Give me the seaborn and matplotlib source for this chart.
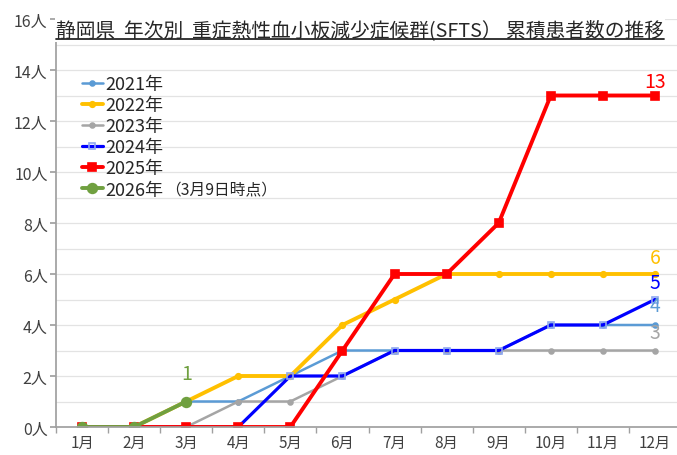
import matplotlib
matplotlib.use('Agg')
import matplotlib.pyplot as plt
import numpy as np
import pandas as pd
import seaborn as sns
from matplotlib.lines import Line2D

# Data (cumulative patients per month)
months = ['1月', '2月', '3月', '4月', '5月', '6月', '7月', '8月', '9月', '10月', '11月', '12月']
y2021 = [0, 0, 1, 1, 2, 3, 3, 3, 3, 4, 4, 4]
y2022 = [0, 0, 1, 2, 2, 4, 5, 6, 6, 6, 6, 6]
y2023 = [0, 0, 0, 1, 1, 2, 3, 3, 3, 3, 3, 3]
y2024 = [0, 0, 0, 0, 2, 2, 3, 3, 3, 4, 4, 5]
y2025 = [0, 0, 0, 0, 0, 3, 6, 6, 8, 13, 13, 13]
y2026 = [0, 0, 1]
series_names = ['2021年', '2022年', '2023年', '2024年', '2025年', '2026年']
note_2026 = '（3月9日時点）'

sns.set_theme(style='white')
plt.rcParams['font.family'] = ['Noto Sans CJK JP', 'DejaVu Sans']

fig = plt.figure(figsize=(6.77, 4.56), dpi=100)
ax = fig.add_axes([56 / 677, 1 - 428 / 456, 625 / 677, 408 / 456])

# series styles
styles = [
    dict(color='#5B9BD5', lw=1.8, marker='o', ms=3.5, mfc='#5B9BD5', mec='#5B9BD5'),
    dict(color='#FFC000', lw=2.8, marker='o', ms=4, mfc='#FFC000', mec='#FFC000'),
    dict(color='#A5A5A5', lw=1.8, marker='o', ms=3.5, mfc='#A5A5A5', mec='#A5A5A5'),
    dict(color='#0000FF', lw=2.3, marker='s', ms=5, mfc='none', mec='#8FA8F0'),
    dict(color='#FF0000', lw=2.8, marker='s', ms=6, mfc='#FF0000', mec='#FF0000'),
    dict(color='#70A040', lw=2.8, marker='o', ms=7, mfc='#70A040', mec='#70A040'),
]
all_values = [y2021, y2022, y2023, y2024, y2025, y2026]

for name, vals, st in zip(series_names, all_values, styles):
    df = pd.DataFrame({'x': np.arange(len(vals)), 'y': vals})
    sns.lineplot(data=df, x='x', y='y', ax=ax, color=st['color'], linewidth=st['lw'],
                 marker=st['marker'], markersize=st['ms'], markerfacecolor=st['mfc'],
                 markeredgecolor=st['mec'], markeredgewidth=1.2, label=name)

# end value labels
label_colors = ['#5B9BD5', '#FFC000', '#A5A5A5', '#0000FF', '#FF0000', '#70A040']
label_offsets = [0.78, 0.63, 0.7, 0.67, 0.55, 1.1]
for vals, c, off in zip(all_values, label_colors, label_offsets):
    ax.text(len(vals) - 1, vals[-1] + off, str(vals[-1]), color=c, fontsize=14,
            ha='center', va='center')

# axes
ax.set_xlim(-0.5, 11.5)
ax.set_ylim(0, 16)
ax.set_xticks(range(12))
ax.set_xticklabels(months)
ax.set_xticks(np.arange(-0.5, 12, 1), minor=True)
ax.set_yticks(range(0, 17, 2))
ax.set_yticklabels([f'{v}人' for v in range(0, 17, 2)])
ax.set_yticks(range(0, 17), minor=True)
ax.tick_params(axis='x', which='major', length=0, labelsize=11, labelcolor='#404040', pad=5)
ax.tick_params(axis='x', which='minor', length=4, color='#A0A0A0', direction='out', bottom=True)
ax.tick_params(axis='y', which='major', length=4, color='#A0A0A0', direction='out', left=True,
               labelsize=11.5, labelcolor='#404040', pad=2)
ax.tick_params(axis='y', which='minor', length=0)
ax.grid(axis='y', which='both', color='#E3E3E3', lw=0.9)
ax.set_xlabel('')
ax.set_ylabel('')
for side in ['top', 'right']:
    ax.spines[side].set_visible(False)
ax.spines['left'].set_color('#A0A0A0')
ax.spines['bottom'].set_color('#A0A0A0')

leg = ax.legend(loc='upper left', bbox_to_anchor=(0.03, 0.88), frameon=False, fontsize=13,
                handlelength=1.15, handletextpad=0.15, labelspacing=0.17, borderaxespad=0)
for t in leg.get_texts():
    t.set_color('#262626')
t_last = leg.get_texts()[-1]

# title with white background and underline
title = fig.text(360 / 677, 1 - 31 / 456, '静岡県  年次別  重症熱性血小板減少症候群(SFTS） 累積患者数の推移',
                 ha='center', va='center', fontsize=14.2, color='#262626',
                 bbox=dict(facecolor='white', edgecolor='none', pad=1))
fig.canvas.draw()
bb = title.get_window_extent().transformed(fig.transFigure.inverted())
fig.add_artist(Line2D([bb.x0, bb.x1], [bb.y0 + 0.003, bb.y0 + 0.003], color='#262626', lw=1.3,
                      transform=fig.transFigure, zorder=10))

# note after legend last entry
lb = t_last.get_window_extent().transformed(fig.transFigure.inverted())
fig.text(lb.x1 + 0.002, (lb.y0 + lb.y1) / 2, note_2026, fontsize=11.3, color='#262626',
         ha='left', va='center')

fig.savefig('out.png', dpi=100)
